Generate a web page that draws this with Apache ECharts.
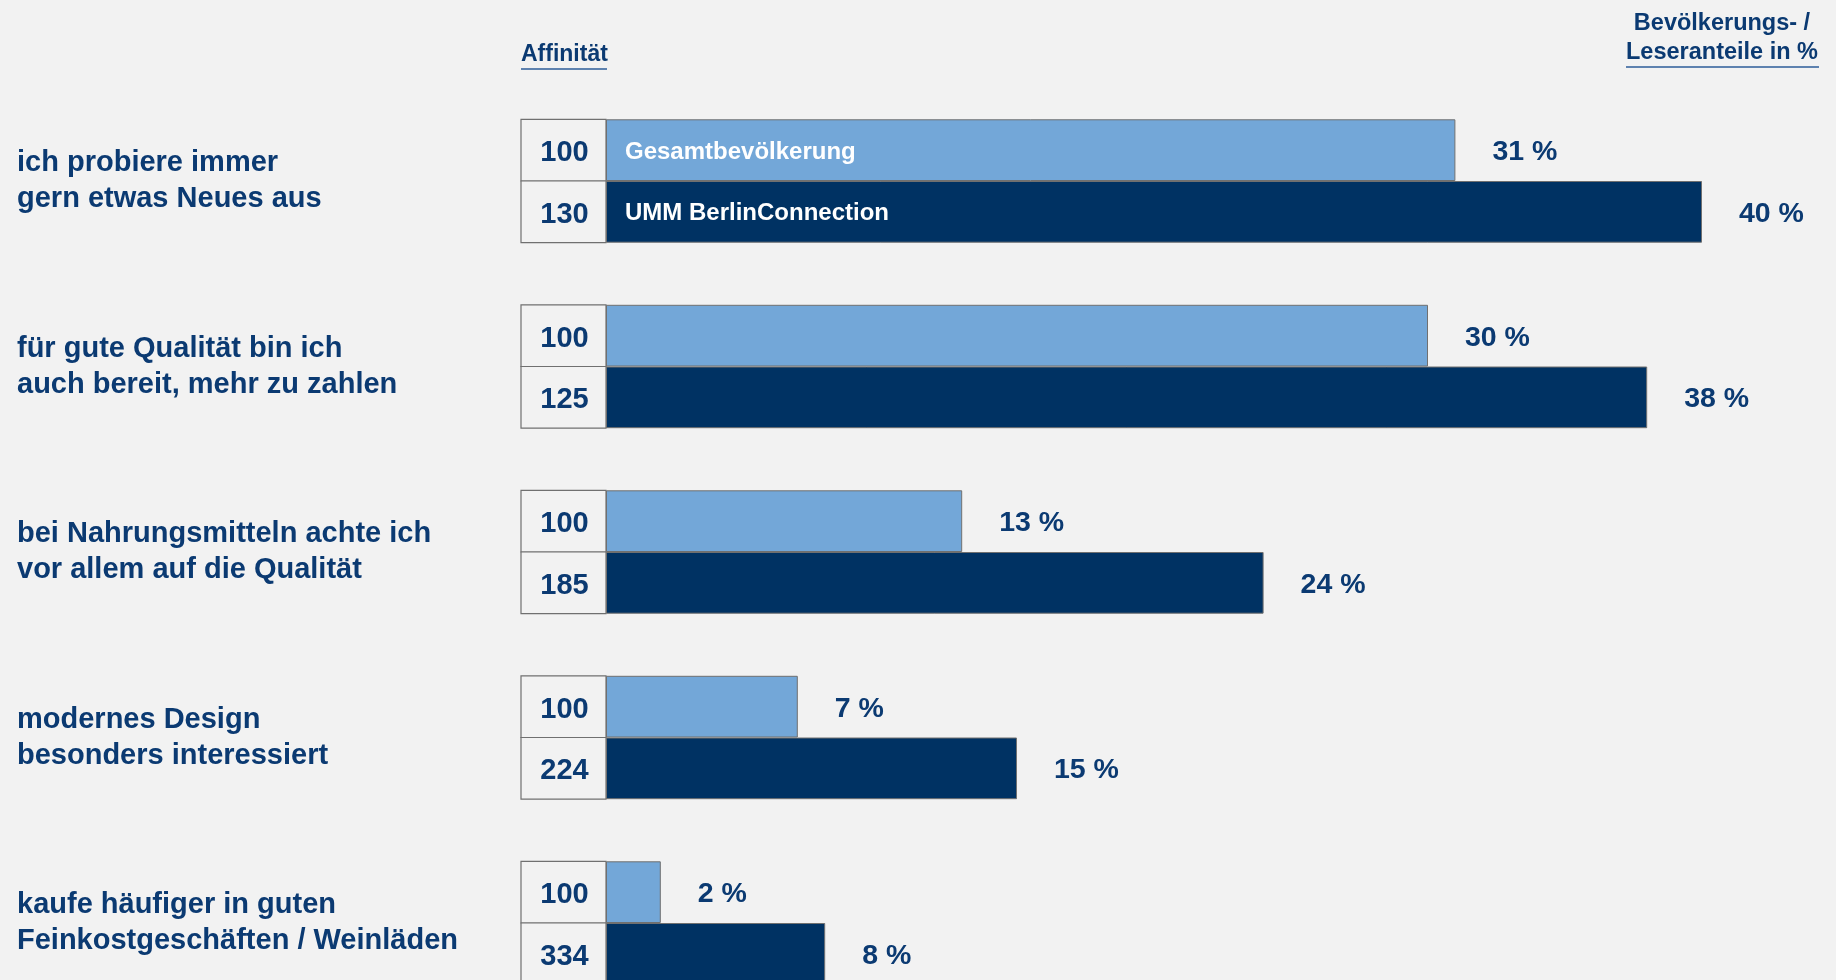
<!DOCTYPE html>
<html>
<head>
<meta charset="utf-8">
<script src="https://cdn.jsdelivr.net/npm/echarts@6/dist/echarts.min.js"></script>
<style>
html,body{margin:0;padding:0;background:#f2f2f2;}
#chart{width:1836px;height:980px;}
</style>
</head>
<body>
<div id="chart"></div>
<script>
const categories = [
  'ich probiere immer\ngern etwas Neues aus',
  'für gute Qualität bin ich\nauch bereit, mehr zu zahlen',
  'bei Nahrungsmitteln achte ich\nvor allem auf die Qualität',
  'modernes Design\nbesonders interessiert',
  'kaufe häufiger in guten\nFeinkostgeschäften / Weinläden'
];
const seriesNames = ['Gesamtbevölkerung', 'UMM BerlinConnection'];
const shareGesamt = [31, 30, 13, 7, 2];
const shareUMM = [40, 38, 24, 15, 8];
const affinityGesamt = [100, 100, 100, 100, 100];
const affinityUMM = [130, 125, 185, 224, 334];
const headerLeft = 'Affinität';
const headerRight = 'Bevölkerungs- /\nLeseranteile in %';

const NAVY = '#0b3a72';
const LIGHT = '#73a7d8';
const DARK = '#003263';
const BORDER = '#707070';
const BG = '#f2f2f2';
const FONT = '"Liberation Sans", Arial, Helvetica, sans-serif';

const BAR_H = 61.7;
const BOX_W = 85;

const chart = echarts.init(document.getElementById('chart'), null, {renderer: 'canvas'});

const affData = categories.map((c, i) => [0, i, affinityGesamt[i], affinityUMM[i]]);

const option = {
  backgroundColor: BG,
  animation: false,
  title: {
    text: headerLeft, left: 521, top: 43, padding: 0,
    textStyle: {fontFamily: FONT, fontWeight: 'bold', fontSize: 23, color: NAVY, lineHeight: 23}
  },
  graphic: [
    {
      type: 'text', x: 1722, y: 9,
      style: {
        text: headerRight, align: 'center', verticalAlign: 'top',
        font: 'bold 23.5px ' + FONT, lineHeight: 29, fill: NAVY
      }
    },
    {type: 'line', shape: {x1: 521, y1: 69, x2: 607, y2: 69}, style: {stroke: '#2c5d99', lineWidth: 1.5}},
    {type: 'line', shape: {x1: 1626, y1: 67, x2: 1819, y2: 67}, style: {stroke: '#2c5d99', lineWidth: 1.5}}
  ],
  grid: {left: 606, top: 88.25, height: 927.5, width: 1205.6, containLabel: false, outerBoundsMode: 'none'},
  xAxis: {
    type: 'value', min: 0, max: 44, show: false
  },
  yAxis: {
    type: 'category', inverse: true, data: categories,
    axisLine: {show: false}, axisTick: {show: false}, splitLine: {show: false},
    axisLabel: {
      align: 'left', margin: 589, fontFamily: FONT, fontWeight: 'bold',
      fontSize: 29, lineHeight: 36, color: NAVY
    }
  },
  series: [
    {
      name: seriesNames[0], type: 'bar', data: shareGesamt, barWidth: BAR_H, barGap: '0%',
      itemStyle: {color: LIGHT, borderColor: BORDER, borderWidth: 1},
      label: {
        show: true, position: 'right', distance: 37, formatter: '{c} %', offset: [0, 2],
        fontFamily: FONT, fontWeight: 'bold', fontSize: 28.5, color: NAVY
      },
      z: 2
    },
    {
      name: seriesNames[1], type: 'bar', data: shareUMM, barWidth: BAR_H, barGap: '0%',
      itemStyle: {color: DARK, borderColor: BORDER, borderWidth: 1},
      label: {
        show: true, position: 'right', distance: 37, formatter: '{c} %', offset: [0, 2],
        fontFamily: FONT, fontWeight: 'bold', fontSize: 28.5, color: NAVY
      },
      z: 2
    },
    {
      type: 'custom', data: affData, encode: {x: 0, y: 1}, z: 5, clip: false, silent: true,
      renderItem: function (params, api) {
        const cat = api.value(1);
        const p = api.coord([0, cat]);
        const x0 = p[0], yc = p[1];
        const children = [];
        for (let s = 0; s < 2; s++) {
          const y = yc - BAR_H + s * BAR_H;
          children.push({
            type: 'rect',
            shape: {x: x0 - BOX_W, y: y, width: BOX_W, height: BAR_H},
            style: {fill: BG, stroke: BORDER, lineWidth: 1.2}
          });
          children.push({
            type: 'text',
            style: {
              x: x0 - BOX_W / 2 + 1, y: y + BAR_H / 2 + 3, text: String(api.value(2 + s)),
              align: 'center', verticalAlign: 'middle',
              font: 'bold 29px ' + FONT, fill: NAVY
            }
          });
          if (cat === 0) {
            children.push({
              type: 'text',
              style: {
                x: x0 + 19, y: y + BAR_H / 2 + 2, text: seriesNames[s],
                align: 'left', verticalAlign: 'middle',
                font: 'bold 24px ' + FONT, fill: '#ffffff'
              }
            });
          }
        }
        return {type: 'group', children: children};
      }
    }
  ]
};
chart.setOption(option);
</script>
</body>
</html>
